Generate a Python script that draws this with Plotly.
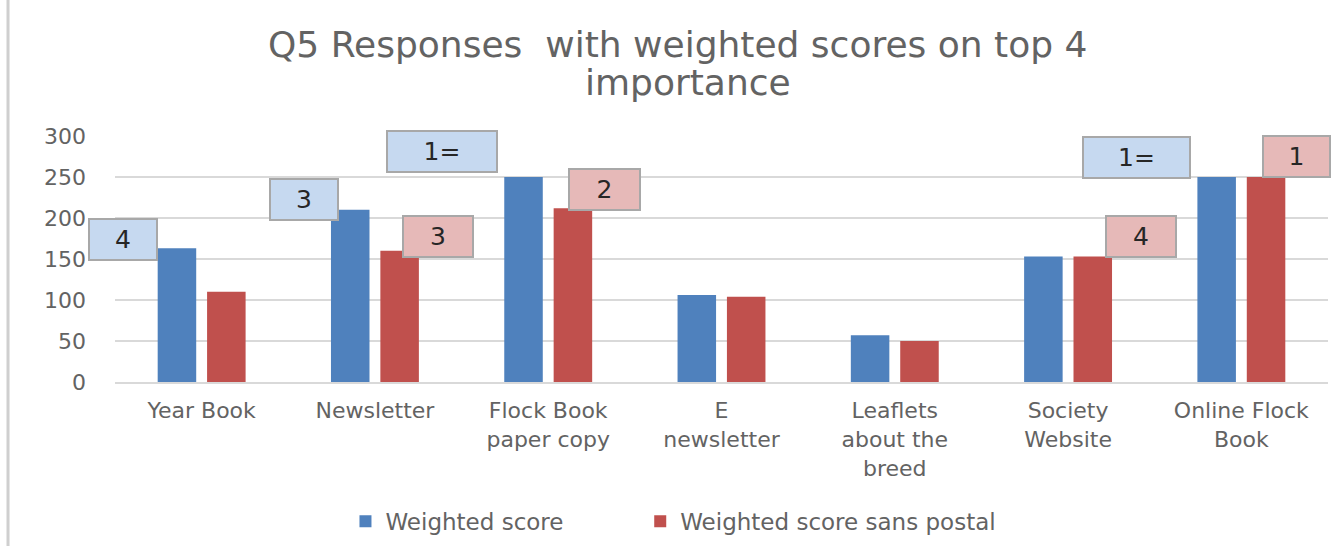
import plotly.graph_objects as go

# Survey categories and the two weighted-score series
categories = ["Year Book", "Newsletter", "Flock Book<br>paper copy", "E<br>newsletter",
              "Leaflets<br>about the<br>breed", "Society<br>Website", "Online Flock<br>Book"]
weighted_score = [163, 210, 250, 106, 57, 153, 250]
weighted_sans_postal = [110, 160, 212, 104, 50, 153, 250]

# Top-4 rank call-outs: (category index, rank label)
weighted_ranks = [(0, "4"), (1, "3"), (2, "1="), (6, "1=")]
sans_postal_ranks = [(1, "3"), (2, "2"), (5, "4"), (6, "1")]

title_lines = ["Q5 Responses  with weighted scores on top 4", "importance"]

BLUE = "#4f81bd"
RED = "#c0504d"
FONT = "DejaVu Sans"
GREY_TEXT = "#636363"

fig = go.Figure()
fig.add_trace(go.Bar(x=categories, y=weighted_score, name="Weighted score",
                     marker=dict(color=BLUE, line=dict(width=0)),
                     legend="legend", showlegend=True))
fig.add_trace(go.Bar(x=categories, y=weighted_sans_postal, name="Weighted score sans postal",
                     marker=dict(color=RED, line=dict(width=0)),
                     legend="legend2", showlegend=True))

# call-out box placement: (x offset in px from category centre, y in data units, box width)
weighted_box_place = [(-79, 174, 66), (-71, 223, 66), (-106, 281, 108), (-105, 274, 105)]
sans_box_place = [(63, 178, 68), (56, 235, 69), (73, 178, 68), (55, 275, 65)]


def rank_box(idx, label, place, fill):
    dx, yv, w = place
    return dict(x=categories[idx], y=yv, xref="x", yref="y", xshift=dx,
                text=label, showarrow=False, width=w, height=39,
                bgcolor=fill, bordercolor="#a8a8a8", borderwidth=2, borderpad=0,
                font=dict(family=FONT, size=25, color="#262626"),
                align="center", valign="middle")


annotations = []
for (idx, label), place in zip(weighted_ranks, weighted_box_place):
    annotations.append(rank_box(idx, label, place, "#c6d9f0"))
for (idx, label), place in zip(sans_postal_ranks, sans_box_place):
    annotations.append(rank_box(idx, label, place, "#e6b9b8"))

# two-line chart title, each line placed on its own
for text, xc, yc in zip(title_lines, [0.464, 0.472], [1.370, 1.2195]):
    annotations.append(dict(text=text, x=xc, y=yc, xref="paper", yref="paper",
                            xanchor="center", yanchor="middle", showarrow=False,
                            font=dict(family=FONT, size=36, color=GREY_TEXT)))

legend_style = dict(orientation="h", xanchor="left", y=-0.566, yanchor="middle",
                    font=dict(family=FONT, size=23, color=GREY_TEXT),
                    itemwidth=30, bgcolor="rgba(0,0,0,0)", visible=True)

fig.update_layout(
    width=1332, height=546,
    margin=dict(l=115, r=4, t=136, b=164),
    paper_bgcolor="white", plot_bgcolor="white",
    font=dict(family=FONT, color=GREY_TEXT),
    showlegend=True,
    barmode="group", bargap=0.43, bargroupgap=0.22,
    xaxis=dict(range=[-0.5, 6.5], autorange=False,
               showgrid=False, showline=True, linecolor="#d9d9d9", linewidth=2,
               tickfont=dict(family=FONT, size=22, color=GREY_TEXT),
               ticks="", ticklabelstandoff=8, fixedrange=True),
    yaxis=dict(range=[0, 300], dtick=50, showgrid=True, gridcolor="#d9d9d9", gridwidth=2,
               zeroline=False, showline=False, ticks="",
               ticklabelstandoff=28,
               tickfont=dict(family=FONT, size=22, color=GREY_TEXT)),
    legend=dict(x=0.19, **legend_style),
    legend2=dict(x=0.433, **legend_style),
    annotations=annotations,
    shapes=[dict(type="line", xref="paper", yref="paper",
                 x0=-0.0882, x1=-0.0882, y0=-0.7, y1=1.6,
                 line=dict(color="#cfcfcf", width=3))],
)

fig.write_html("out.html")
